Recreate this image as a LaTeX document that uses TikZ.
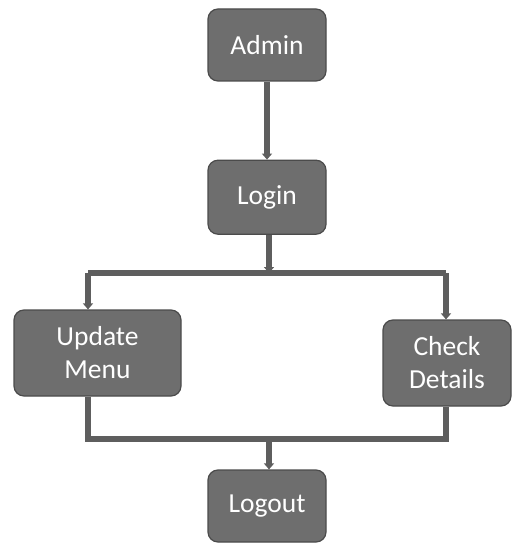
\documentclass[tikz,border=0pt]{standalone}
\usepackage{fontspec}
\setmainfont{Carlito}
\usetikzlibrary{arrows.meta,positioning}
\definecolor{boxgray}{HTML}{6E6E6E}
\definecolor{edgegray}{HTML}{4B4B4B}
\definecolor{linegray}{HTML}{5E5E5E}
\begin{document}
\begin{tikzpicture}[x=1pt,y=1pt,node distance=78pt,box/.style={draw=edgegray,line width=1.2pt,fill=boxgray,rounded corners=10pt,align=center,text=white,font=\fontsize{27.5}{33}\selectfont,minimum width=118pt,minimum height=72pt,inner sep=2pt},wire/.style={draw=linegray,line width=5.5pt},arr/.style={wire,-{Triangle[length=6pt,width=10pt]}}]
\useasboundingbox (0,0) rectangle (512,-548);
\node[box] (admin) at (267,-45) {Admin};
\node[box,below=78pt of admin,minimum height=74pt] (login) {Login};
\node[box,minimum width=167pt,minimum height=86pt] (update) at (97.5,-353) {Update\\Menu};
\node[box,minimum width=128pt,minimum height=86pt] (check) at (447,-363) {Check\\Details};
\node[box] (logout) at (267,-506) {Logout};
\coordinate (busL) at (88,-273);\coordinate (busR) at (446,-273);\coordinate (busC) at (269,-273);
\coordinate (botL) at (88,-439);\coordinate (botR) at (446,-439);\coordinate (botC) at (269,-439);
\draw[arr](admin)--(login);\draw[arr](login.south-|busC)--(busC);
\draw[wire](busL)--(busR);
\draw[arr](busL)--(busL|-update.north);\draw[arr](busR)--(busR|-check.north);
\draw[wire](update.south-|botL)--(botL)--(botR)--(check.south-|botR);
\draw[arr](botC)--(botC|-logout.north);
\end{tikzpicture}
\end{document}
